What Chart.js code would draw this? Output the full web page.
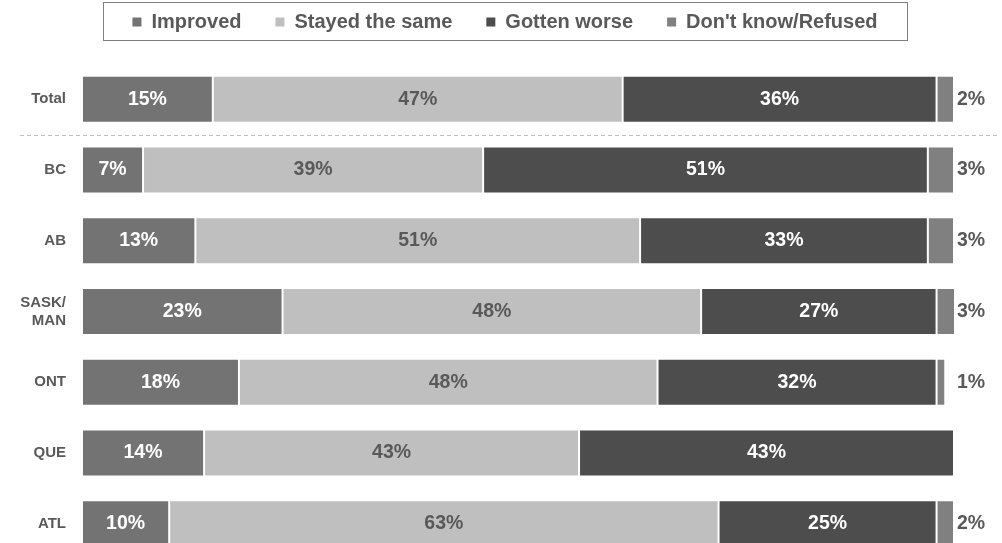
<!DOCTYPE html>
<html>
<head>
<meta charset="utf-8">
<script src="https://cdn.jsdelivr.net/npm/chart.js@4/dist/chart.umd.min.js"></script>
<style>
  html, body { margin: 0; padding: 0; background: #fff; overflow: hidden; }
  #wrap { width: 1002px; height: 576px; }
</style>
</head>
<body>
<div id="wrap"><canvas id="myChart" width="1002" height="576"></canvas></div>
<script>
// categories and values
var regions = ['Total', 'BC', 'AB', ['SASK/', 'MAN'], 'ONT', 'QUE', 'ATL'];
var improved = [15, 7, 13, 23, 18, 14, 10];
var stayedSame = [47, 39, 51, 48, 48, 43, 63];
var gottenWorse = [36, 51, 33, 27, 32, 43, 25];
var dontKnow = [2, 3, 3, 3, 1, 0.3, 2];

var FONT = 'Arial, "Liberation Sans", sans-serif';
var TEXT = '#595959';
var LEG_SHIFT = 28;  // horizontal nudge of the legend
var LEG_RAISE = 22;  // labels.padding also pads vertically, pull items back up

// draws % labels inside segments, and outside for the last series
var labelPlugin = {
    id: 'segLabels',
    afterDatasetsDraw: function(chart) {
        var ctx = chart.ctx;
        ctx.save();
        ctx.font = 'bold 19.5px ' + FONT;
        ctx.textBaseline = 'middle';
        chart.data.datasets.forEach(function(ds, di) {
            var meta = chart.getDatasetMeta(di);
            meta.data.forEach(function(bar, i) {
                var v = ds.data[i];
                if (v < 0.5) return;
                var txt = Math.round(v) + '%';
                if (di == 3) { //outside, right of bar
                    ctx.fillStyle = TEXT;
                    ctx.textAlign = 'left';
                    ctx.fillText(txt, chart.chartArea.right + 3, bar.y);
                } else {
                    ctx.fillStyle = ds.labelColor;
                    ctx.textAlign = 'center';
                    ctx.fillText(txt, (bar.x + bar.base) / 2, bar.y);
                }
            });
        });
        ctx.restore();
    },
    afterDraw: function(chart) {
        var ctx = chart.ctx;
        ctx.save();
        // dashed separator under Total
        var y = (chart.scales.y.getPixelForValue(0) + chart.scales.y.getPixelForValue(1)) / 2;
        ctx.strokeStyle = '#bfbfbf';
        ctx.lineWidth = 1;
        ctx.setLineDash([4, 3]);
        ctx.beginPath();
        ctx.moveTo(20, Math.round(y) + 0.5);
        ctx.lineTo(1000, Math.round(y) + 0.5);
        ctx.stroke();
        // box around legend
        var hb = chart.legend.legendHitBoxes;
        if (hb && hb.length) {
            var first = hb[0], last = hb[hb.length - 1];
            var left = Math.round(first.left + LEG_SHIFT - 29);
            var right = Math.round(last.left + LEG_SHIFT + last.width + 29);
            ctx.setLineDash([]);
            ctx.strokeStyle = '#7f7f7f';
            ctx.strokeRect(left + 0.5, 2.5, right - left, 38);
        }
        ctx.restore();
    },
    afterInit: function(chart) {
        var lg = chart.legend;
        // keep legend tall enough so the plot starts lower
        var fit = lg.fit;
        lg.fit = function() {
            fit.call(this);
            this.height = 64;
        };
        var draw = lg.draw;
        lg.draw = function() {
            this.left += LEG_SHIFT; this.right += LEG_SHIFT; this.top -= LEG_RAISE;
            draw.apply(this, arguments);
            this.left -= LEG_SHIFT; this.right -= LEG_SHIFT; this.top += LEG_RAISE;
        };
    }
};

function series(label, data, color, labelColor) {
    return {
        label: label,
        data: data,
        backgroundColor: color,
        borderColor: '#ffffff',
        borderWidth: 1,
        borderSkipped: false,
        labelColor: labelColor,
        barPercentage: 0.665,
        categoryPercentage: 1.0
    };
}

var ctx = document.getElementById('myChart').getContext('2d');
var chart = new Chart(ctx, {
    type: 'bar',
    data: {
        labels: regions,
        datasets: [
            series('Improved', improved, '#737373', '#ffffff'),
            series('Stayed the same', stayedSame, '#bfbfbf', TEXT),
            series('Gotten worse', gottenWorse, '#4d4d4d', '#ffffff'),
            series("Don't know/Refused", dontKnow, '#808080', TEXT)
        ]
    },
    options: {
        indexAxis: 'y',
        responsive: false,
        animation: false,
        layout: { padding: { left: 0, right: 48, top: 0, bottom: 0 } },
        scales: {
            x: { stacked: true, min: 0, max: 100, display: false },
            y: {
                stacked: true,
                grid: { display: false },
                border: { display: false },
                ticks: {
                    color: TEXT,
                    font: { family: FONT, size: 15, weight: 'bold' },
                    padding: 8
                },
                afterFit: function(scale) { scale.width = 82; }
            }
        },
        plugins: {
            tooltip: { enabled: false },
            legend: {
                position: 'top',
                labels: {
                    color: TEXT,
                    font: { family: FONT, size: 20, weight: 'bold' },
                    boxWidth: 9,
                    boxHeight: 9,
                    padding: 34,
                    generateLabels: function(chart) {
                        return chart.data.datasets.map(function(ds, i) {
                            return {
                                text: ds.label,
                                fillStyle: ds.backgroundColor,
                                strokeStyle: ds.backgroundColor,
                                lineWidth: 0,
                                fontColor: TEXT,
                                datasetIndex: i
                            };
                        });
                    }
                }
            }
        }
    },
    plugins: [labelPlugin]
});
</script>
</body>
</html>
